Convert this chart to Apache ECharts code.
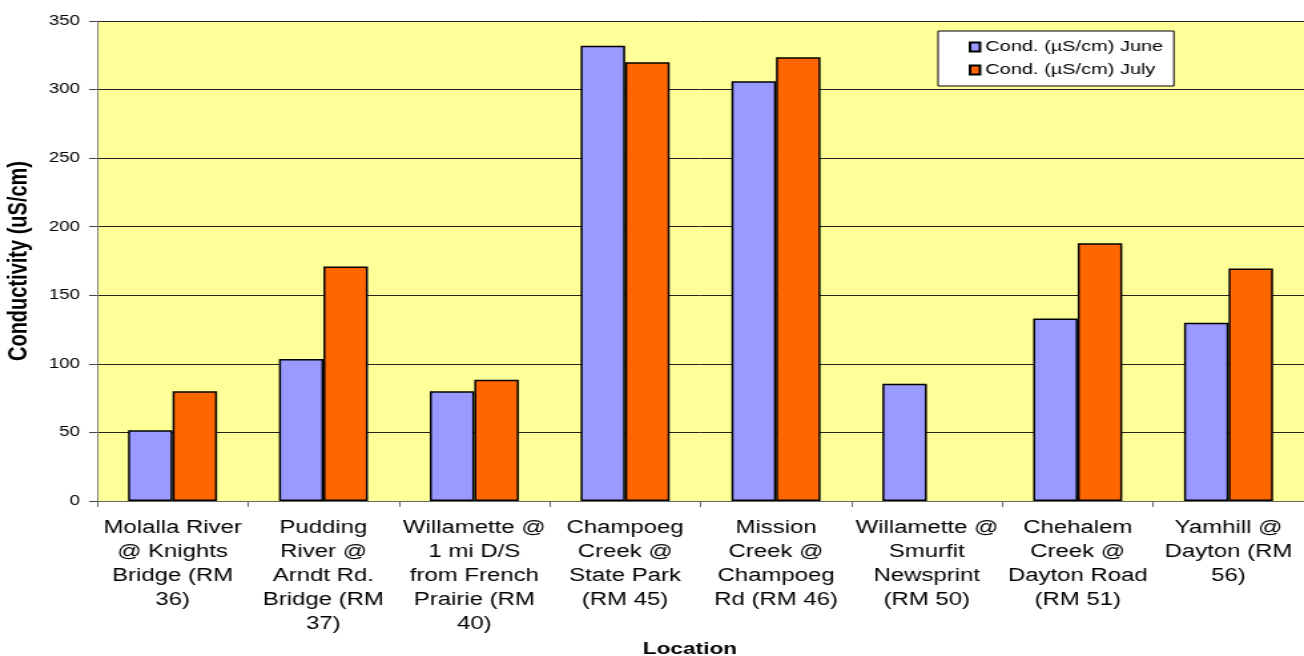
<!DOCTYPE html>
<html>
<head>
<meta charset="utf-8">
<title>Conductivity by Location</title>
<script src="https://cdn.jsdelivr.net/npm/echarts@6/dist/echarts.min.js"></script>
<style>
  html, body { margin: 0; padding: 0; background: #ffffff; overflow: hidden; }
  /* The chart is laid out on a narrower canvas and widened to the page width. */
  #chart { width: 980px; height: 656px; transform: scaleX(1.3306); transform-origin: 0 0; }
</style>
</head>
<body>
<div id="chart"></div>
<script>
const locations = [
  'Molalla River\n@ Knights\nBridge (RM\n36)',
  'Pudding\nRiver @\nArndt Rd.\nBridge (RM\n37)',
  'Willamette @\n1 mi D/S\nfrom French\nPrairie (RM\n40)',
  'Champoeg\nCreek @\nState Park\n(RM 45)',
  'Mission\nCreek @\nChampoeg\nRd (RM 46)',
  'Willamette @\nSmurfit\nNewsprint\n(RM 50)',
  'Chehalem\nCreek @\nDayton Road\n(RM 51)',
  'Yamhill @\nDayton (RM\n56)'
];
const condJune = [51.5, 103.5, 80, 332, 306, 85.5, 133, 130];
const condJuly = [80, 171, 88.5, 320, 323.5, null, 188, 169.5];
const seriesNames = ['Cond. (µS/cm) June', 'Cond. (µS/cm) July'];
const yTicks = { min: 0, max: 350, interval: 50 };

const FONT = "'Liberation Sans', Arial, sans-serif";

const chart = echarts.init(document.getElementById('chart'));
chart.setOption({
  animation: false,
  textStyle: { fontFamily: FONT, color: '#000' },
  grid: {
    left: 73, right: 0, top: 21, bottom: 155,
    outerBoundsMode: 'none',
    containLabel: false,
    show: true, backgroundColor: '#FFFF99', borderWidth: 0
  },
  legend: {
    orient: 'vertical',
    left: 705, top: 31,
    align: 'left',
    backgroundColor: '#ffffff',
    borderColor: '#000', borderWidth: 1,
    padding: [8, 8, 8, 23],
    itemGap: 7,
    itemWidth: 7.5, itemHeight: 9,
    textStyle: { fontFamily: FONT, fontSize: 15, color: '#000', lineHeight: 16, padding: [0, 0, 0, -1] },
    data: seriesNames.map(n => ({ name: n, icon: 'rect' }))
  },
  xAxis: {
    type: 'category',
    data: locations,
    name: 'Location',
    nameLocation: 'middle',
    nameGap: 137,
    nameTextStyle: { fontFamily: FONT, fontSize: 17, fontWeight: 'bold', color: '#000', padding: [0, 16, 0, 0] },
    axisLine: { lineStyle: { color: '#666', width: 1 } },
    axisTick: { show: true, length: 6, lineStyle: { color: '#666' } },
    axisLabel: { interval: 0, fontFamily: FONT, fontSize: 18, lineHeight: 24, color: '#000', margin: 15 },
    splitLine: { show: false }
  },
  yAxis: {
    type: 'value',
    min: yTicks.min, max: yTicks.max, interval: yTicks.interval,
    name: 'Conductivity (uS/cm)',
    nameLocation: 'middle',
    nameGap: 49,
    nameRotate: 90,
    nameTextStyle: { fontFamily: FONT, fontSize: 20, fontWeight: 'bold', color: '#000' },
    axisLine: { show: true, lineStyle: { color: '#808080', width: 1 } },
    axisTick: { show: true, length: 6, lineStyle: { color: '#444' } },
    axisLabel: { fontFamily: FONT, fontSize: 14, color: '#000', margin: 13 },
    splitLine: { show: true, lineStyle: { color: '#222', width: 1 } }
  },
  series: [
    {
      name: seriesNames[0], type: 'bar', data: condJune,
      barWidth: '29.5%', barGap: '0%',
      itemStyle: { color: '#9999FF', borderColor: '#000', borderWidth: 1.5 }
    },
    {
      name: seriesNames[1], type: 'bar', data: condJuly,
      barWidth: '29.5%', barGap: '0%',
      itemStyle: { color: '#FF6600', borderColor: '#000', borderWidth: 1.5 }
    }
  ]
});
</script>
</body>
</html>
